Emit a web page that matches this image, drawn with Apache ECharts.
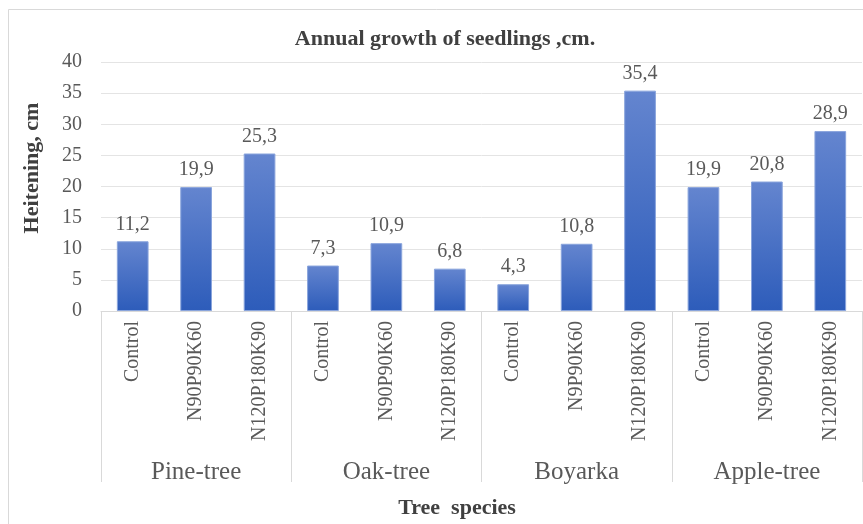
<!DOCTYPE html>
<html>
<head>
<meta charset="utf-8">
<script src="https://cdn.jsdelivr.net/npm/echarts@6/dist/echarts.min.js"></script>
<style>
  html, body { margin: 0; padding: 0; background: #fff; }
  #chart { width: 863px; height: 524px; }
</style>
</head>
<body>
<div id="chart"></div>
<script>
const treatments = ['Control', 'N90P90K60', 'N120P180K90',
  'Control', 'N90P90K60', 'N120P180K90',
  'Control', 'N9P90K60', 'N120P180K90',
  'Control', 'N90P90K60', 'N120P180K90']
const species = ['Pine-tree', 'Oak-tree', 'Boyarka', 'Apple-tree']
const growth = [11.2, 19.9, 25.3, 7.3, 10.9, 6.8, 4.3, 10.8, 35.4, 19.9, 20.8, 28.9]
const yTicks = [0, 5, 10, 15, 20, 25, 30, 35, 40]

const serif = '"Liberation Serif", "Times New Roman", serif'
const labelGray = '#595959'

const chart = echarts.init(document.getElementById('chart'))

const option = {
  animation: false,
  backgroundColor: '#fff',
  title: {
    text: 'Annual growth of seedlings ,cm.',
    left: 440,
    top: 23,
    textAlign: 'center',
    textStyle: { fontFamily: serif, fontSize: 22, fontWeight: 'bold', color: '#404040' }
  },
  graphic: [
    {
      type: 'rect',
      shape: { x: 8.5, y: 9.5, width: 870, height: 530 },
      style: { fill: 'none', stroke: '#d9d9d9', lineWidth: 1 },
      silent: true
    },
    {
      type: 'text',
      x: 32,
      y: 168,
      rotation: Math.PI / 2,
      style: {
        text: 'Heitening, cm',
        font: 'bold 22px ' + serif,
        fill: '#404040',
        align: 'center',
        verticalAlign: 'middle'
      }
    },
    {
      type: 'text',
      x: 457,
      y: 508,
      style: {
        text: 'Tree  species',
        font: 'bold 22px ' + serif,
        fill: '#404040',
        align: 'center',
        verticalAlign: 'middle'
      }
    }
  ],
  grid: { left: 101, right: 1, top: 62, bottom: 213 },
  xAxis: [
    {
      type: 'category',
      data: treatments,
      position: 'bottom',
      axisLine: { show: true, lineStyle: { color: '#d9d9d9' } },
      axisTick: { show: false },
      axisLabel: {
        interval: 0,
        rotate: 90,
        margin: 10,
        fontFamily: serif,
        fontSize: 20,
        color: labelGray
      }
    },
    {
      type: 'category',
      data: species,
      position: 'bottom',
      boundaryGap: true,
      axisLine: { show: false },
      axisTick: { show: true, length: 171, lineStyle: { color: '#d9d9d9' } },
      axisLabel: {
        interval: 0,
        margin: 149,
        fontFamily: serif,
        fontSize: 25,
        color: labelGray
      }
    }
  ],
  yAxis: {
    type: 'value',
    min: yTicks[0],
    max: yTicks[yTicks.length - 1],
    interval: 5,
    axisLine: { show: false },
    axisTick: { show: false },
    axisLabel: { margin: 19, fontFamily: serif, fontSize: 20, color: labelGray },
    splitLine: { lineStyle: { color: '#e4e4e4' } }
  },
  series: [
    {
      type: 'bar',
      xAxisIndex: 0,
      data: growth,
      barWidth: '50%',
      itemStyle: {
        color: new echarts.graphic.LinearGradient(0, 0, 0, 1, [
          { offset: 0, color: '#6485cf' },
          { offset: 1, color: '#2d5cba' }
        ]),
        borderColor: '#89a4dc',
        borderWidth: 1
      },
      label: {
        show: true,
        position: 'top',
        distance: 7,
        fontFamily: serif,
        fontSize: 20,
        color: labelGray,
        formatter: (p) => String(p.value).replace('.', ',')
      }
    }
  ]
}

chart.setOption(option)
</script>
</body>
</html>
